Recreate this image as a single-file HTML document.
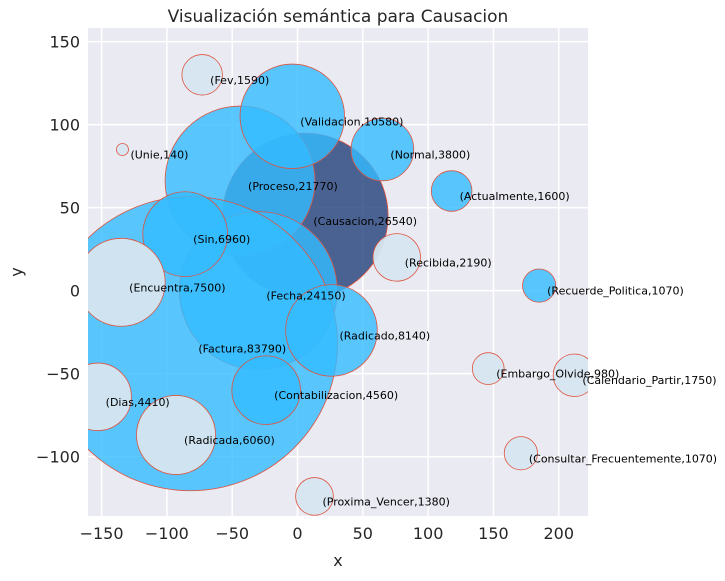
<!DOCTYPE html>
<html><head><meta charset="utf-8"><style>
body{margin:0;background:#fff;font-family:"Liberation Sans","DejaVu Sans",sans-serif;}
</style></head><body>
<svg id="chart" width="725" height="576" xmlns="http://www.w3.org/2000/svg" font-family="DejaVu Sans, Liberation Sans, sans-serif">
<defs><clipPath id="clip"><rect x="88" y="28" width="500" height="488"/></clipPath></defs>
<rect x="88" y="28" width="500" height="488" fill="#eaeaf2"/>
<g id="grid"></g>
<g id="bubbles" clip-path="url(#clip)"></g>
<g id="labels"></g>
<g id="ticks"></g>
<text x="338" y="22" text-anchor="middle" font-size="17" fill="#262626">Visualización semántica para Causacion</text>
<text x="338" y="566" text-anchor="middle" font-size="16" fill="#262626">x</text>
<text x="22" y="272" text-anchor="middle" font-size="16" fill="#262626" transform="rotate(-90 22 272)">y</text>
</svg>
<script>
const names=["Causacion","Proceso","Fecha","Factura","Validacion","Normal","Actualmente","Sin","Radicado","Contabilizacion","Recuerde_Politica","Fev","Unie","Encuentra","Recibida","Embargo_Olvide","Calendario_Partir","Dias","Radicada","Consultar_Frecuentemente","Proxima_Vencer"];
const counts=[26540,21770,24150,83790,10580,3800,1600,6960,8140,4560,1070,1590,140,7500,2190,980,1750,4410,6060,1070,1380];
const xs=[6,-44,-30,-82,-4,65,118,-86,26,-24,185,-73,-134,-135,76,146,212,-153,-93,171,13];
const ys=[45,66,0,-32,105,85,60,34,-24,-60,3,130,85,5,20,-47,-51,-64,-87,-98,-124];
const kinds=["dark","blue","blue","blue","blue","blue","blue","blue","blue","blue","blue","light","light","light","light","light","light","light","light","light","light"];
const xTicks=[-150,-100,-50,0,50,100,150,200];
const yTicks=[-100,-50,0,50,100,150];
const X0=88,X1=588,Y0=28,Y1=516,xmin=-160.4,xmax=222.4,ymin=-135.8,ymax=158.2;
const sx=v=>X0+(v-xmin)/(xmax-xmin)*(X1-X0);
const sy=v=>Y1-(v-ymin)/(ymax-ymin)*(Y1-Y0);
const NS="http://www.w3.org/2000/svg";
function mk(t,a){const e=document.createElementNS(NS,t);for(const k in a)e.setAttribute(k,a[k]);return e;}
const grid=document.getElementById('grid'),tk=document.getElementById('ticks');
xTicks.forEach(t=>{const g=mk('line',{x1:sx(t),x2:sx(t),y1:Y0,y2:Y1,stroke:'#fff','stroke-width':1.5});

grid.appendChild(g);
const l=mk('text',{x:sx(t),y:Y1+23,'text-anchor':'middle','font-size':16,fill:'#262626'});l.textContent=t<0?'\u2212'+(-t):t;

tk.appendChild(l);});
yTicks.forEach(t=>{const g=mk('line',{x1:X0,x2:X1,y1:sy(t),y2:sy(t),stroke:'#fff','stroke-width':1.5});

grid.appendChild(g);
const l=mk('text',{x:X0-8,y:sy(t)+6,'text-anchor':'end','font-size':16,fill:'#262626'});l.textContent=t<0?'\u2212'+(-t):t;

tk.appendChild(l);});
const fills={dark:'#2e4a80',blue:'#33bbff',light:'#d6e6ef'};
const ops={dark:0.85,blue:0.8,light:0.95};
const bg=document.getElementById('bubbles'),lg=document.getElementById('labels');
const order=[...names.keys()].filter(i=>kinds[i]!=='light').concat([...names.keys()].filter(i=>kinds[i]==='light'));
order.forEach(i=>{
const r=0.508*Math.sqrt(counts[i]);
const c=mk('circle',{cx:sx(xs[i]),cy:sy(ys[i]),r:r,fill:fills[kinds[i]],'fill-opacity':ops[kinds[i]],stroke:'#e0533f','stroke-width':0.8});


bg.appendChild(c);});
names.forEach((n,i)=>{
const t=mk('text',{x:sx(xs[i])+8,y:sy(ys[i])+9,'font-size':11,fill:'#000'});
t.textContent='('+n+','+counts[i]+')';


lg.appendChild(t);});
</script>
</body></html>
